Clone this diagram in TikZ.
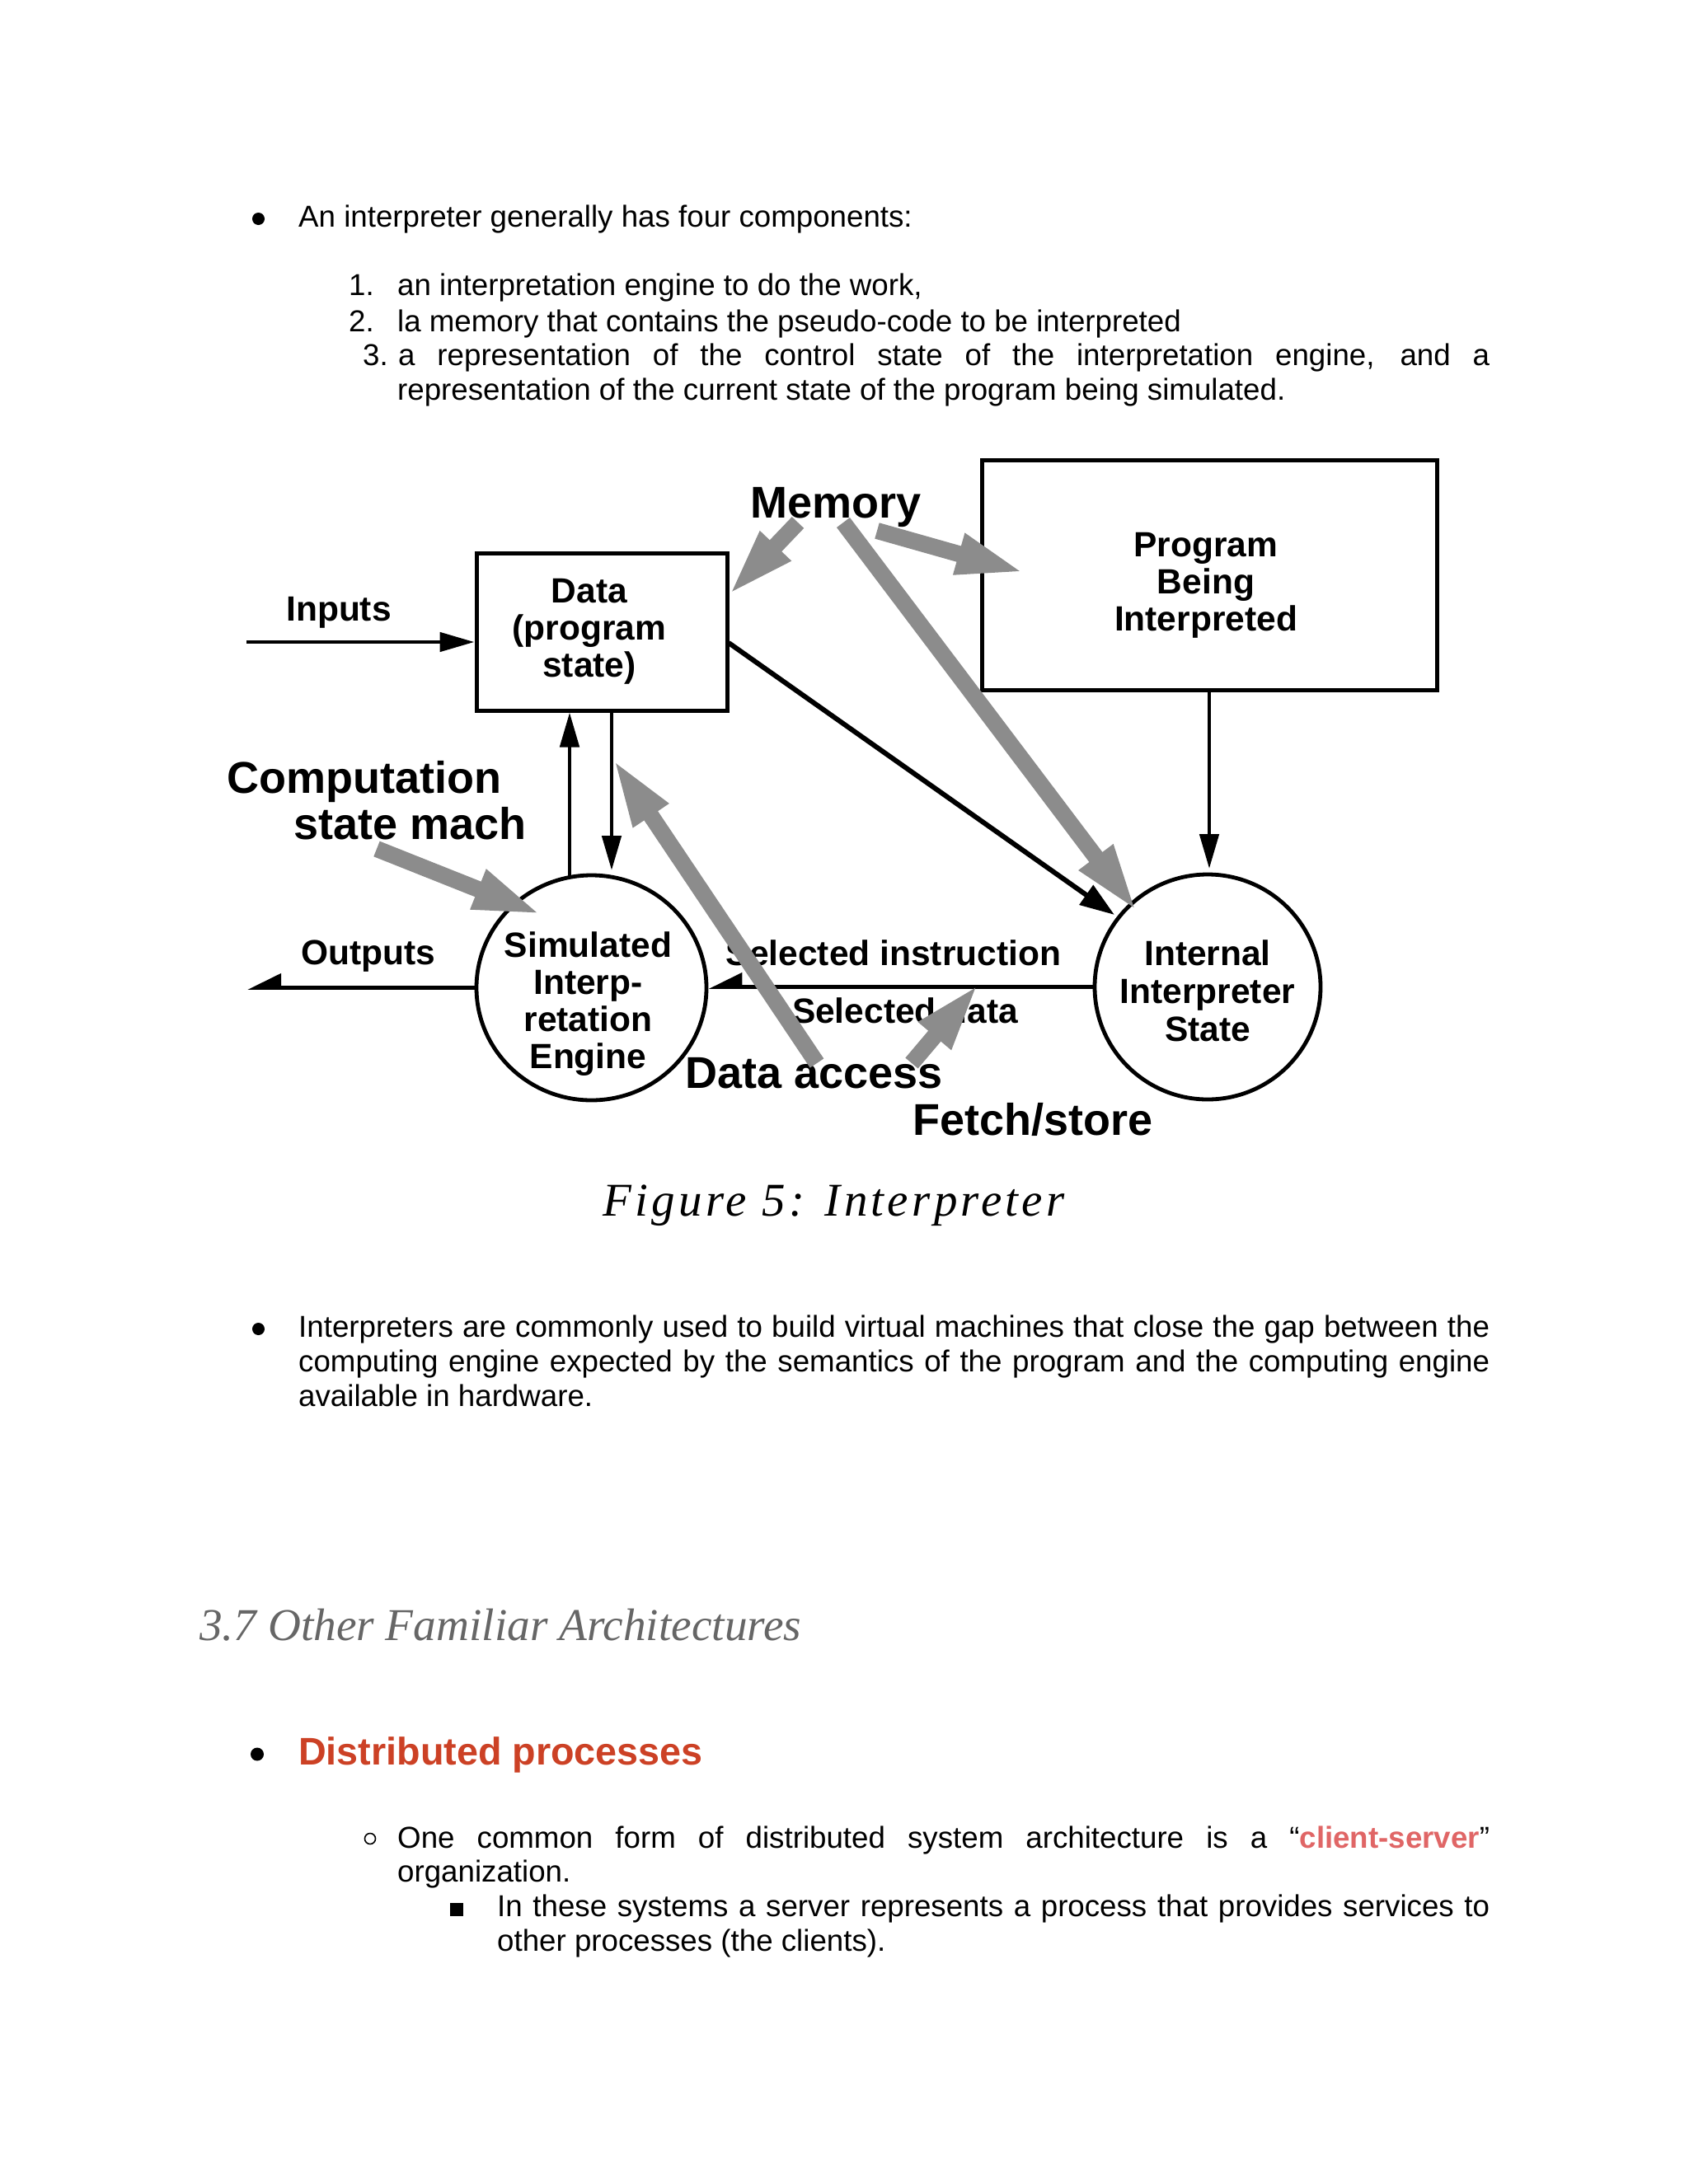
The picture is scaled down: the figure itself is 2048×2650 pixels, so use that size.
\documentclass[tikz,border=0pt]{standalone}
\usepackage{fontspec}
\setmainfont{Liberation Sans}
\newfontfamily\capfont{Liberation Serif}[LetterSpace=7.5]
\newfontfamily\headfont{Liberation Serif}
\usetikzlibrary{arrows.meta,shapes.geometric}
\definecolor{arrowgray}{HTML}{8C8C8C}
\definecolor{headgray}{HTML}{666666}
\definecolor{redA}{HTML}{CC4125}
\definecolor{redB}{HTML}{E06666}
\begin{document}
\begin{tikzpicture}[x=1pt,y=-1pt,
  body/.style={anchor=base west,inner sep=0pt,font=\fontsize{36.7pt}{42pt}\selectfont},
  lab/.style={anchor=base,inner sep=0pt,font=\bfseries\fontsize{42.5pt}{45pt}\selectfont},
  biglab/.style={anchor=base,inner sep=0pt,font=\bfseries\fontsize{54pt}{56pt}\selectfont},
  box/.style={draw,line width=5pt,inner sep=0pt},
  ell/.style={draw,ellipse,line width=4.8pt,inner sep=0pt},
  blk/.style={line width=4.8pt,-{Triangle[length=42pt,width=23pt]}},
  blkd/.style={line width=6pt,-{Triangle[length=42pt,width=28pt]}},
  harp/.style={line width=4.8pt,-{Triangle[harpoon,swap,length=36pt,width=34pt]}},
  garrow/.style={draw=arrowgray,line width=20pt,-{Triangle[length=84pt,width=46pt]}}]
\path[use as bounding box,fill=white] (0,0) rectangle (2048,2650);

% ---------- top text ----------
\fill (313.5,265.5) circle[radius=7.5pt];
\node[body] (t1) at (362,275) {An interpreter generally has four components:};
\node[body] (n1) at (423,358) {1.};
\node[body] (i1) at (482,358) {an interpretation engine to do the work,};
\node[body] (n2) at (423,402) {2.};
\node[body] (i2) at (482,402) {la memory that contains the pseudo-code to be interpreted};
\node[body] (n3) at (440,443) {3.};
\node[body] (i3a) at (483,443) {\makebox[1324pt][s]{a representation of the control state of the interpretation engine, and a}};
\node[body] (i3b) at (482,485) {representation of the current state of the program being simulated.};

% ---------- diagram boxes ----------
\node[box,minimum width=304pt,minimum height=191pt] (data) at (730,766.5) {};
\node[box,minimum width=552pt,minimum height=279pt] (prog) at (1467,697.5) {};
\node[ell,minimum width=279pt,minimum height=273pt] (engine) at (717.5,1198.5) {};
\node[ell,minimum width=274pt,minimum height=273pt] (istate) at (1465,1197.5) {};

% ---------- diagram labels ----------
\node[lab] (d1) at (715,731) {Data};
\node[lab] (d2) at (715,776) {(program};
\node[lab] (d3) at (715,821) {state)};
\node[lab] (p1) at (1463,675) {Program};
\node[lab] (p2) at (1463,720) {Being};
\node[lab] (p3) at (1463,765) {Interpreted};
\node[lab] (e1) at (713.5,1161) {Simulated};
\node[lab] (e2) at (713.5,1206) {Interp-};
\node[lab] (e3) at (713.5,1251) {retation};
\node[lab] (e4) at (713.5,1296) {Engine};
\node[lab] (s1) at (1465,1171) {Internal};
\node[lab] (s2) at (1465,1217) {Interpreter};
\node[lab] (s3) at (1465,1263) {State};
\node[lab] (inl) at (411,753) {Inputs};
\node[lab] (outl) at (447,1170) {Outputs};
\node[lab] (seli) at (1084,1171) {Selected instruction};
\node[lab] (seld) at (1098,1241) {Selected data};
\node[biglab] (mem) at (1014.5,628) {Memory};
\node[biglab,anchor=base west] (comp1) at (275,962) {Computation};
\node[biglab,anchor=base west] (comp2) at (356,1018) {state mach};
\node[biglab] (dacc) at (988,1320) {Data access};
\node[biglab] (fst) at (1253,1377) {Fetch/store};

% ---------- black connectors ----------
\coordinate (inS) at (299,779);
\draw[blk] (inS) -- (inS -| data.west);
\coordinate (upS) at (691,1064);
\draw[blk] (upS) -- (upS |- data.south);
\coordinate (dnE) at (742,1056);
\draw[blk] (dnE |- data.south) -- (dnE);
\coordinate (pgE) at (1467,1054);
\draw[blk] (prog.south) -- (pgE);
\coordinate (diagS) at (884,780);
\coordinate (diagE) at (1352,1110);
\draw[blkd] (diagS) -- (diagE);
\draw[harp] (istate.west) -- (istate.west -| engine.east);
\coordinate (outE) at (300,1198.5);
\draw[harp] (engine.west) -- (outE);

% ---------- gray block arrows ----------
\coordinate (g1s) at (968,634);  \coordinate (g1e) at (883,723);
\coordinate (g2s) at (1064,644); \coordinate (g2e) at (1244,695);
\coordinate (g3s) at (1023,634); \coordinate (g3e) at (1380,1107);
\coordinate (g4s) at (991,1290); \coordinate (g4e) at (743,920);
\coordinate (g5s) at (1106,1290);\coordinate (g5e) at (1188,1193);
\coordinate (g6s) at (457,1030); \coordinate (g6e) at (658,1110);
\draw[garrow] (g1s) -- (g1e);
\draw[garrow] (g2s) -- (g2e);
\draw[garrow] (g3s) -- (g3e);
\draw[garrow] (g4s) -- (g4e);
\draw[garrow] (g5s) -- (g5e);
\draw[garrow] (g6s) -- (g6e);

% ---------- caption ----------
\node[anchor=base,inner sep=0pt,font=\capfont\itshape\fontsize{57pt}{60pt}\selectfont] (cap) at (1011.5,1475) {Figure 5: Interpreter};

% ---------- lower text ----------
\fill (313.5,1612.5) circle[radius=7.5pt];
\node[body] (b1) at (362,1622) {\makebox[1445pt][s]{Interpreters are commonly used to build virtual machines that close the gap between the}};
\node[body] (b2) at (362,1664) {\makebox[1445pt][s]{computing engine expected by the semantics of the program and the computing engine}};
\node[body] (b3) at (362,1706) {available in hardware.};

\node[anchor=base west,inner sep=0pt,text=headgray,font=\headfont\itshape\fontsize{55.3pt}{60pt}\selectfont] (head) at (242,1990) {3.7 Other Familiar Architectures};

\fill (312,2128.5) circle[radius=8pt];
\node[anchor=base west,inner sep=0pt,text=redA,font=\bfseries\fontsize{46.7pt}{52pt}\selectfont] (dist) at (362,2141) {Distributed processes};

\draw[line width=1.6pt] (449,2231) circle[radius=6.5pt];
\node[body] (c1) at (482,2242) {\makebox[1325pt][s]{One common form of distributed system architecture is a “\textcolor{redB}{\bfseries client-server}”}};
\node[body] (c2) at (482,2283) {organization.};
\fill (546,2309) rectangle (562,2325);
\node[body] (q1) at (603,2325) {\makebox[1204pt][s]{In these systems a server represents a process that provides services to}};
\node[body] (q2) at (603,2367) {other processes (the clients).};
\end{tikzpicture}
\end{document}
